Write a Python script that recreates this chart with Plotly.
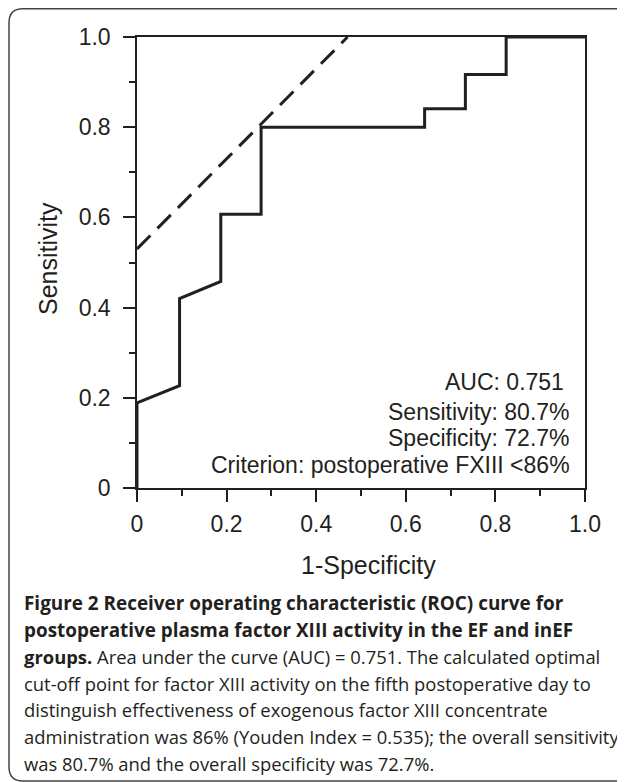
import plotly.graph_objects as go

# ROC curve vertices (1-Specificity, Sensitivity)
fpr = [0, 0, 0.095, 0.095, 0.187, 0.187, 0.277, 0.277, 0.642, 0.642, 0.733, 0.733, 0.824, 0.824, 1.0]
tpr = [0, 0.189, 0.227, 0.42, 0.458, 0.607, 0.607, 0.80, 0.80, 0.841, 0.841, 0.917, 0.917, 1.0, 1.0]

# Youden tangent (dashed) line
youden_x = [0, 0.47]
youden_y = [0.53, 1.0]

tick_vals = [0, 0.2, 0.4, 0.6, 0.8, 1.0]
tick_text = ["0", "0.2", "0.4", "0.6", "0.8", "1.0"]
minor_vals = [0.1, 0.3, 0.5, 0.7, 0.9]

stats_lines = ["AUC: 0.751 ", "Sensitivity: 80.7%", "Specificity: 72.7%",
               "Criterion: postoperative FXIII <86%"]
stats_y = [0.236, 0.169, 0.111, 0.051]

caption_lines = [
    "<b>Figure 2 Receiver operating characteristic (ROC) curve for</b>",
    "<b>postoperative plasma factor XIII activity in the EF and inEF</b>",
    "<b>groups.</b> Area under the curve (AUC) = 0.751. The calculated optimal",
    "cut-off point for factor XIII activity on the fifth postoperative day to",
    "distinguish effectiveness of exogenous factor XIII concentrate",
    "administration was 86% (Youden Index = 0.535); the overall sensitivity",
    "was 80.7% and the overall specificity was 72.7%.",
]
caption_bold = [True, True, False, False, False, False, False]

W, H = 625, 782
OFF = 8  # page body margin
# plot area in page coordinates of the reference
PL, PR, PT, PB = 137, 585, 37, 488
L, R, T, B = PL - OFF, PR - OFF, PT - OFF, PB - OFF
PW, PH = R - L, B - T


def px(x):  # reference page x -> paper
    return (x - PL) / PW


def py(y):  # reference page y -> paper
    return (PB - y) / PH


INK = "#231f20"
FONT = "Liberation Sans, Arial, sans-serif"

fig = go.Figure()
fig.add_trace(go.Scatter(x=youden_x, y=youden_y, mode="lines",
                         line=dict(color=INK, width=3, dash="19px,10px"),
                         cliponaxis=False, showlegend=False, hoverinfo="skip"))
fig.add_trace(go.Scatter(x=fpr, y=tpr, mode="lines",
                         line=dict(color=INK, width=3),
                         cliponaxis=False, showlegend=False, hoverinfo="skip"))

axis_common = dict(
    range=[0, 1], tickvals=tick_vals, ticktext=tick_text,
    showgrid=False, zeroline=False, showline=True, mirror=True,
    linecolor=INK, linewidth=1.5, ticks="outside", ticklen=12,
    tickwidth=1.5, tickcolor=INK,
    tickfont=dict(family=FONT, size=23, color=INK),
    minor=dict(tickvals=minor_vals, ticks="outside",
               ticklen=6, tickwidth=1.5, tickcolor=INK),
    fixedrange=True,
)

fig.update_xaxes(**axis_common, ticklabelstandoff=3)
fig.update_yaxes(**axis_common, ticklabelstandoff=8)

annotations = [
    dict(x=px(368), y=py(565), xref="paper", yref="paper", text="1-Specificity",
         showarrow=False, xanchor="center", yanchor="middle",
         font=dict(family=FONT, size=25, color=INK)),
    dict(x=px(48), y=py(259), xref="paper", yref="paper", text="Sensitivity",
         showarrow=False, xanchor="center", yanchor="middle", textangle=-90,
         font=dict(family=FONT, size=25, color=INK)),
]
for txt, yv in zip(stats_lines, stats_y):
    annotations.append(dict(x=0.972, y=yv, xref="x", yref="y", text=txt,
                            showarrow=False, xanchor="right", yanchor="middle",
                            font=dict(family=FONT, size=23, color=INK)))

cap_top = 603
for i, (txt, bold) in enumerate(zip(caption_lines, caption_bold)):
    annotations.append(dict(x=px(22), y=py(cap_top + i * 26.7), xref="paper", yref="paper",
                            text=txt, showarrow=False, xanchor="left", yanchor="middle",
                            font=dict(family="Open Sans, sans-serif",
                                      size=18.9 if bold else 18.4, color=INK)))

# rounded frame around figure + caption (right edge runs past the image)
x0, x1 = px(9), px(660)
y0, y1 = py(781), py(8.8)
rx, ry = 14 / PW, 14 / PH
path = (f"M {x1},{y1} L {x0 + rx},{y1} Q {x0},{y1} {x0},{y1 - ry} "
        f"L {x0},{y0 + ry} Q {x0},{y0} {x0 + rx},{y0} L {x1},{y0}")
shapes = [dict(type="path", xref="paper", yref="paper", path=path,
               line=dict(color="#444444", width=1.5))]

fig.update_layout(
    width=W, height=H,
    margin=dict(l=L, r=W - R, t=T, b=H - B, pad=0),
    paper_bgcolor="white", plot_bgcolor="white",
    annotations=annotations, shapes=shapes,
    showlegend=False,
)

fig.write_html("out.html")
